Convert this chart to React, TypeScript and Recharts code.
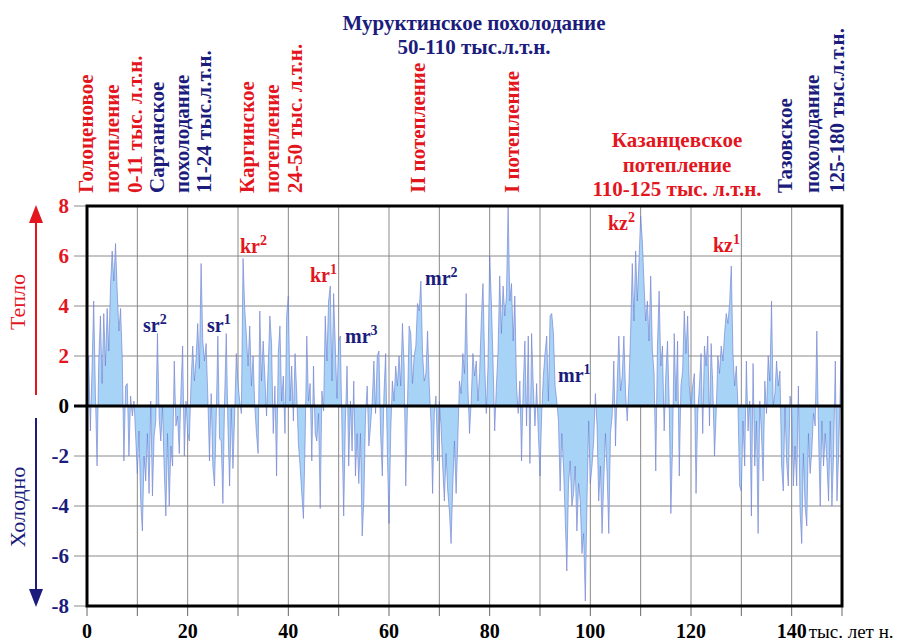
import React from 'react';
import {
  AreaChart,
  Area,
  XAxis,
  YAxis,
  CartesianGrid,
  ReferenceLine,
} from 'recharts';

// temperature anomaly, one reading every 1/3 thousand years
const holoceneToKargin = [
  1.2, 2.0, -1.0, 1.5, 4.2, 0.5, -2.4, 1.8, 3.6, 0.9, 3.7, 1.6, 3.9, 2.2, 4.8,
  6.2, 5.0, 6.5, 4.6, 3.0, 3.9, 2.0, -2.2, 0.8, 0.9, -2.0, 0.4, -0.4, 0.2, -1.2,
  -2.7, -1.0, -3.8, -5.0, -2.0, -3.0, -1.1, -3.5, 0.2, -3.6, -1.2, -0.6, 2.9, -0.5, -1.4,
  0.0, -2.5, -4.4, -1.1, -4.0, -1.6, -2.4, 1.8, -0.8, -0.4, -1.9, 0.6, 2.4, -2.0, 0.2,
  -1.1, -1.4, 0.9, 2.4, 1.0, 1.9, 3.3, 1.5, 5.7, 2.6, 1.8, 2.5, 0.4, -2.2, 0.5,
  -2.4, -3.2, -0.5, 2.8, -1.3, -1.4, -3.9, 0.2, 2.9, -0.8, -3.2, -0.1, -2.5, -0.4, 2.1,
  0.9, 0.2, -0.3, 5.9, 3.9, 2.8, 1.6, 3.2, 0.8, 2.0, 0.0, -1.1, -1.9, 3.8, 1.0,
  2.6, 1.2, -0.4, 1.6, 3.6, 2.5, -1.1, 0.8, -2.8, 2.1, 3.2, 0.2, 1.2, -1.1, 3.6,
  4.4, 0.2, 1.6, -0.6, 2.1, 0.5, -1.5, -2.4, -3.5, -4.5, -1.4, 2.8, 0.2, 0.9, -2.2,
  1.6, -1.1, -1.4, -0.3, -4.1, 0.6, -0.2, 3.6, 1.8, 4.2, 4.8, 1.0, 4.5, 2.4, 0.3,
  2.6, 2.8, -1.1, -4.4, -0.6,
];
const murukta1 = [
  1.6, -2.4, 0.2, -1.8, 1.0, -2.8, -1.1, -3.1, -1.1, -5.2,
  -3.8, -0.4, 0.8, -1.6, -0.8, 0.2, 1.8, -0.3, 2.0, 2.2,
  -1.1, -2.8, 0.5, 2.1, -1.8, -4.7, -1.1, 1.0, 0.2, 1.6,
  0.8, 2.0, 0.8, 3.3, 1.6, -3.2, 0.0, 3.2, 2.9, 0.9,
  2.0, 2.4, 4.1, 3.8, 5.0, 2.1, 1.0, 1.3, 3.0, 0.8,
  -0.6, -3.5, -0.3, 0.4, -2.2, 0.2, -0.8, -2.4, -3.8, -1.9,
  -3.4, -4.2, -5.5, -3.2, -1.4, -3.5, -1.4, 1.0, 0.5, 2.1,
  1.3, 4.5, 0.8, -1.1, 0.2, 2.1, 1.2, 1.8, 0.2, 1.3,
];
const murukta2 = [
  3.4, 4.9, 1.8, -0.3, 1.6, 6.0, 4.2, 1.8, -1.0, 0.8,
  2.2, 5.2, 2.9, 4.8, 3.6, 4.4, 8.0, 4.2, 4.9, 2.6,
  4.4, 0.8, -0.3, 1.0, -2.2, 0.8, 2.6, -0.8, 2.8, -2.3,
  2.9, 0.8, -0.8, 0.9, -1.1, -2.8, -0.3, 1.2, 2.1, 2.8,
  0.2, 3.6, 3.7, 2.9, 0.8, 0.2, -0.6, -3.4, -1.1, -2.4,
  -4.4, -6.6, -3.1, -2.2, -4.0, -3.5, -2.4, -5.0, -3.1, -3.8,
  -5.9, -5.1, -7.8, -3.8, -0.6, -3.1, -2.4, -1.4, 0.5, -0.8,
  -3.8, -2.4, -5.1, -3.0, -1.1,
];
const kazantsevo = [
  -2.7, -5.1, -1.1, -0.4, 1.8, -1.6, 0.9, 2.8, 0.6, 1.2,
  2.8, 0.5, -0.6, 0.9, 2.9, 5.7, 3.4, 6.2, 4.2, 5.8,
  7.6, 6.6, 4.9, 3.4, 4.2, 2.6, 5.2, 2.2, 1.3, -2.6,
  2.4, 4.6, 1.6, 2.4, -1.0, 1.3, 2.6, 0.1, -4.3, -1.6,
  2.9, 0.2, 2.6, -2.8, 0.8, 1.4, 3.8, 2.1, 3.6, 0.8,
  0.0, 0.8, 1.3, -3.5, -0.3, 0.8, 2.1, -1.1, 2.4, 1.6,
  2.8, -0.8, 2.5, 0.8, -2.0, -0.3, 2.0, 1.3, 2.4, 1.8,
  2.9, 3.7, 3.3, 4.1, 5.6, 2.1, 0.8, 1.6, 0.0, -3.2,
];
const tazovo = [
  -3.4, -0.6, -2.4, 1.8, -1.0, 0.2, -4.4, 1.7, -2.4, -0.6,
  -5.1, 0.2, -1.1, -3.0, 1.0, -0.3, 2.0, 1.0, 4.2, 0.0,
  0.5, 1.8, 0.8, 1.4, -2.4, -3.4, 0.0, -2.2, -3.2, 0.4,
  0.0, -3.2, -1.6, -3.2, 0.8, -4.2, -5.5, -1.9, -4.0, -4.8,
  -1.1, -2.7, -1.8, -0.3, -0.8, 3.0, -1.1, -4.0, -0.6, -2.4,
  -1.1, -2.2, -3.8, -0.6, -4.0, -1.9, 1.8, -3.8, -1.9, 0.8,
  3.6,
];

const STEP = 1 / 3; // thousand years between readings
const xTicks = [0, 10, 20, 30, 40, 50, 60, 70, 80, 90, 100, 110, 120, 130, 140, 150];
const xLabels = [0, 20, 40, 60, 80, 100, 120, 140];
const yTicks = [-8, -6, -4, -2, 0, 2, 4, 6, 8];

const RED = '#e3161e';
const NAVY = '#1b1c7c';
const serif = { fontFamily: "'Liberation Serif'" };

const data = [...holoceneToKargin, ...murukta1, ...murukta2, ...kazantsevo, ...tazovo].map(
  (value, i) => ({ age: +(i * STEP).toFixed(3), value })
);

// vertical period captions: [text, column x, colour]
const columns: [string, number, string][] = [
  ['Голоценовое', 86, RED],
  ['потепление', 112, RED],
  ['0-11 тыс. л.т.н.', 135, RED],
  ['Сартанское', 157, NAVY],
  ['похолодание', 182, NAVY],
  ['11-24 тыс.л.т.н.', 204, NAVY],
  ['Каргинское', 247, RED],
  ['потепление', 272, RED],
  ['24-50 тыс. л.т.н.', 295, RED],
  ['II потепление', 418, RED],
  ['I потепление', 512, RED],
  ['Тазовское', 785, NAVY],
  ['похолодание', 812, NAVY],
  ['125-180 тыс.л.т.н.', 837, NAVY],
];

// stage marks inside the plot: [name, index, left x, baseline y, colour]
const stages: [string, string, number, number, string][] = [
  ['sr', '2', 143, 332, NAVY],
  ['sr', '1', 207, 332, NAVY],
  ['kr', '2', 240, 253, RED],
  ['kr', '1', 310, 282, RED],
  ['mr', '3', 345, 343, NAVY],
  ['mr', '2', 425, 285, NAVY],
  ['mr', '1', 558, 382, NAVY],
  ['kz', '2', 608, 230, RED],
  ['kz', '1', 713, 252, RED],
];

const YTick = (props: any) => {
  const { y, payload } = props;
  const v = payload.value;
  const color = v > 0 ? RED : v < 0 ? NAVY : '#000';
  return (
    <g>
      <line
        x1={74}
        x2={87}
        y1={y}
        y2={y}
        stroke={v === 0 ? '#000' : '#8a8a8a'}
        strokeWidth={v === 0 ? 3 : 1}
      />
      <text x={69} y={y + 7} textAnchor="end" fill={color} fontSize={21} fontWeight="bold" style={serif}>
        {v}
      </text>
    </g>
  );
};

const XTick = (props: any) => {
  const { x, payload } = props;
  const v = payload.value;
  return (
    <g>
      <line x1={x} x2={x} y1={606} y2={616} stroke="#666" strokeWidth={1} />
      {xLabels.includes(v) && (
        <text x={x} y={638} textAnchor="middle" fill="#000" fontSize={20} fontWeight="bold" style={serif}>
          {v}
        </text>
      )}
      {v === 140 && (
        <text x={x + 17} y={638} fill="#000" fontSize={19} style={serif}>
          тыс. лет н.
        </text>
      )}
    </g>
  );
};

export default function App() {
  return (
    <div style={{ position: 'absolute', left: 0, top: 0, width: 911, height: 643, background: '#fff' }}>
      <AreaChart width={911} height={643} data={data} margin={{ top: 206, right: 69, bottom: 7, left: 47 }}>
        <XAxis
          type="number"
          dataKey="age"
          domain={[0, 150]}
          ticks={xTicks}
          interval={0}
          height={30}
          axisLine={false}
          tickLine={false}
          tick={<XTick />}
        />
        <YAxis
          type="number"
          domain={[-8, 8]}
          ticks={yTicks}
          interval={0}
          width={40}
          axisLine={false}
          tickLine={false}
          tick={<YTick />}
        />
        <Area
          type="linear"
          dataKey="value"
          baseValue={0}
          stroke="#6a78cc"
          strokeWidth={0.7}
          strokeOpacity={0.85}
          fill="#a7d3f7"
          fillOpacity={1}
          dot={false}
          activeDot={false}
          isAnimationActive={false}
        />
        <CartesianGrid stroke="#8a8a8a" strokeWidth={1} />
        <ReferenceLine y={0} stroke="#000" strokeWidth={3} />
      </AreaChart>

      <svg width={911} height={643} style={{ position: 'absolute', left: 0, top: 0, pointerEvents: 'none' }}>
        <rect x={87} y={206} width={755} height={400} fill="none" stroke="#000" strokeWidth={3} />

        <text x={474} y={30} textAnchor="middle" fill={NAVY} fontSize={21} fontWeight="bold" style={serif}>
          Муруктинское похолодание
        </text>
        <text x={474} y={54} textAnchor="middle" fill={NAVY} fontSize={21} fontWeight="bold" style={serif}>
          50-110 тыс.л.т.н.
        </text>

        {columns.map(([t, cx, c], i) => (
          <text
            key={i}
            transform={`translate(${cx},193) rotate(-90)`}
            dominantBaseline="central"
            fill={c}
            fontSize={21}
            fontWeight="bold"
            style={serif}
          >
            {t}
          </text>
        ))}

        <text x={677} y={147} textAnchor="middle" fill={RED} fontSize={21} fontWeight="bold" style={serif}>
          Казанцевское
        </text>
        <text x={677} y={172} textAnchor="middle" fill={RED} fontSize={21} fontWeight="bold" style={serif}>
          потепление
        </text>
        <text x={677} y={196} textAnchor="middle" fill={RED} fontSize={21} fontWeight="bold" style={serif}>
          110-125 тыс. л.т.н.
        </text>

        {stages.map(([n, s, x, y, c], i) => (
          <text key={i} x={x} y={y} fill={c} fontSize={20} fontWeight="bold" style={serif}>
            {n}
            <tspan fontSize={14} dy={-8}>
              {s}
            </tspan>
          </text>
        ))}

        <line x1={36} x2={36} y1={395} y2={218} stroke={RED} strokeWidth={2} />
        <polygon points="36,205 29,223 43,223" fill={RED} />
        <text
          transform="translate(17,302) rotate(-90)"
          textAnchor="middle"
          dominantBaseline="central"
          fill={RED}
          fontSize={22}
          style={serif}
        >
          Тепло
        </text>

        <line x1={36} x2={36} y1={418} y2={594} stroke={NAVY} strokeWidth={2} />
        <polygon points="36,607 29,589 43,589" fill={NAVY} />
        <text
          transform="translate(17,507) rotate(-90)"
          textAnchor="middle"
          dominantBaseline="central"
          fill={NAVY}
          fontSize={22}
          style={serif}
        >
          Холодно
        </text>
      </svg>
    </div>
  );
}
